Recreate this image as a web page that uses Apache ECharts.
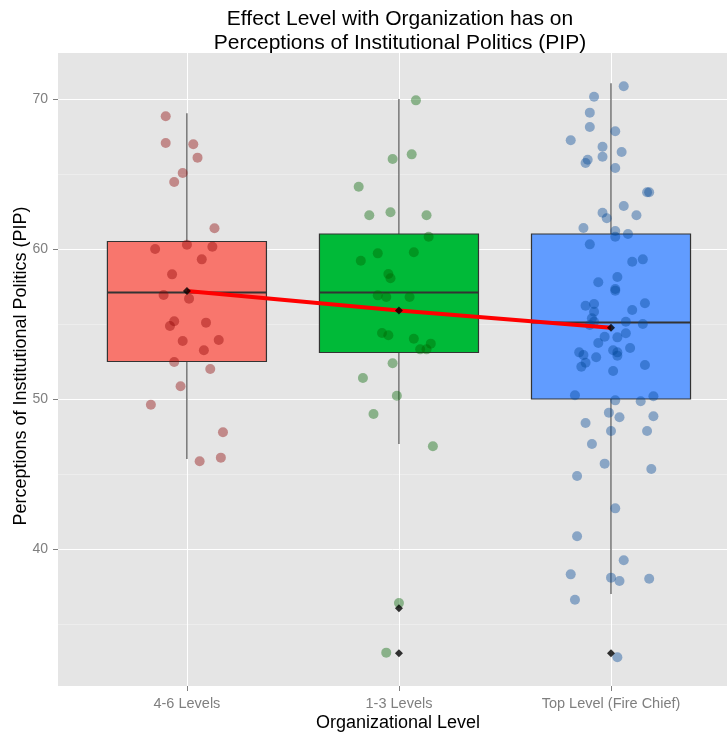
<!DOCTYPE html>
<html>
<head>
<meta charset="utf-8">
<script src="https://cdn.jsdelivr.net/npm/echarts@6/dist/echarts.min.js"></script>
<style>html,body{margin:0;padding:0;background:#fff}#c{width:727px;height:737px}</style>
</head>
<body>
<div id="c"></div>
<script>
// ---- data ----
var categories = ['4-6 Levels', '1-3 Levels', 'Top Level (Fire Chief)'];
// [lower whisker, Q1, median, Q3, upper whisker]
var boxStats = [
  [46.0, 52.5, 57.1, 60.5, 69.05],
  [47.0, 53.1, 57.1, 61.0, 70.0],
  [37.0, 50.0, 55.1, 61.0, 71.05]
];
var means = [57.2, 55.9, 54.75];
var outliers = [[], [36.05, 33.05], [33.05]];
var yTicks = [40, 50, 60, 70];
var yMinorTicks = [35, 45, 55, 65];

var redJitter = [-0.10,-0.10,0.03,0.05,-0.02,-0.06,0.13,-0.15,0.00,0.12,0.07,-0.07,-0.11,0.01,-0.06,-0.08,0.09,-0.02,0.15,0.08,-0.06,0.11,-0.03,-0.17,0.17,0.16,0.06];
var redValues = [68.85,67.07,66.98,66.09,65.07,64.47,61.38,60.0,60.29,60.15,59.31,58.31,56.93,56.69,55.18,54.87,55.09,53.87,53.93,53.25,52.47,52.0,50.85,49.62,47.78,46.09,45.85];

var greenJitter = [0.08,0.06,-0.03,-0.19,-0.14,-0.04,0.13,0.14,-0.10,0.07,-0.18,-0.05,-0.04,-0.10,-0.06,0.05,-0.08,-0.05,0.07,0.15,0.10,0.13,-0.03,-0.17,-0.01,-0.12,0.16,0.00,-0.06];
var greenValues = [69.91,66.31,66.0,64.15,62.25,62.45,62.25,60.82,59.71,59.78,59.22,58.33,58.05,56.91,56.8,56.8,54.4,54.25,54.02,53.69,53.31,53.31,52.38,51.4,50.22,49.0,46.85,36.4,33.09];

var blueJitter = [0.06,-0.08,-0.10,-0.10,0.02,-0.19,-0.04,0.05,-0.04,-0.11,-0.12,0.02,0.17,0.18,0.06,-0.04,-0.02,0.12,-0.13,0.02,0.08,0.02,-0.10,0.10,0.15,-0.06,0.03,0.02,0.02,-0.12,-0.08,-0.08,0.10,0.16,-0.09,-0.08,-0.10,0.07,0.15,-0.03,0.03,0.07,-0.06,0.09,-0.15,-0.13,-0.07,0.01,0.03,0.03,0.16,-0.12,-0.14,0.01,-0.17,0.02,0.14,0.20,-0.01,0.04,0.20,-0.12,0.00,0.17,-0.09,-0.03,0.19,-0.16,0.02,-0.16,0.06,-0.19,0.00,0.04,0.18,-0.17,0.03];
var blueValues = [70.85,70.15,69.09,68.13,67.85,67.25,66.82,66.47,66.15,65.95,65.73,65.4,63.78,63.78,62.87,62.42,62.05,62.25,61.4,61.2,61.0,60.82,60.31,59.15,59.31,57.78,58.13,57.33,57.22,56.22,56.33,55.82,55.93,56.38,55.38,55.15,54.93,55.15,55.0,54.15,54.11,54.38,53.73,53.4,53.11,52.93,52.78,53.25,53.11,52.89,52.27,52.42,52.15,51.87,50.25,49.91,49.85,50.18,49.09,48.78,48.85,48.4,47.87,47.87,47.0,45.69,45.33,44.87,42.71,40.85,39.25,38.31,38.09,37.87,38.02,36.62,32.78];

// ---- styling ----
var boxFills = ['#F8766D', '#00BA38', '#619CFF'];
var pointColors = ['rgba(140,0,0,0.5)', 'rgba(0,100,0,0.5)', 'rgba(0,70,150,0.5)'];

function jitterData(ci, offs, vals) {
  return vals.map(function (v, i) { return [ci + 1 + offs[i], v]; });
}
var jitterSets = [
  jitterData(0, redJitter, redValues),
  jitterData(1, greenJitter, greenValues),
  jitterData(2, blueJitter, blueValues)
];
var boxData = boxStats.map(function (s, i) { return [i + 1].concat(s); });
var meanData = means.map(function (m, i) { return [i + 1, m]; });
var outlierData = [];
outliers.forEach(function (arr, i) { arr.forEach(function (v) { outlierData.push([i + 1, v]); }); });
var catPos = categories.map(function (c, i) { return i + 1; });

var chart = echarts.init(document.getElementById('c'), null, {renderer: 'canvas'});
var FONT = 'Liberation Sans, Arial, sans-serif';
var series = [];
series.push({
  type: 'custom',
  data: boxData,
  z: 2,
  encode: {x: 0, y: [1, 2, 3, 4, 5]},
  renderItem: function (params, api) {
    var c = api.value(0);
    var lo = api.value(1), q1 = api.value(2), med = api.value(3), q3 = api.value(4), hi = api.value(5);
    var half = 0.375;
    var pLo = api.coord([c, lo]), pQ1 = api.coord([c, q1]), pMed = api.coord([c, med]),
        pQ3 = api.coord([c, q3]), pHi = api.coord([c, hi]);
    var xl = api.coord([c - half, med])[0], xr = api.coord([c + half, med])[0];
    var st = {stroke: '#333333', lineWidth: 1};
    return {
      type: 'group',
      children: [
        {type: 'line', shape: {x1: pHi[0], y1: pHi[1], x2: pQ3[0], y2: pQ3[1]}, style: st},
        {type: 'line', shape: {x1: pLo[0], y1: pLo[1], x2: pQ1[0], y2: pQ1[1]}, style: st},
        {type: 'rect', shape: {x: xl, y: pQ3[1], width: xr - xl, height: pQ1[1] - pQ3[1]},
          style: {fill: boxFills[params.dataIndex], stroke: '#333333', lineWidth: 1.2}},
        {type: 'line', shape: {x1: xl, y1: pMed[1], x2: xr, y2: pMed[1]}, style: {stroke: '#333333', lineWidth: 2}}
      ]
    };
  }
});
jitterSets.forEach(function (d, i) {
  series.push({
    type: 'scatter', data: d, symbol: 'circle', symbolSize: 10, z: 3,
    itemStyle: {color: pointColors[i]}, silent: true
  });
});
series.push({
  type: 'line', data: meanData, symbol: 'none', z: 4,
  lineStyle: {color: '#FF0000', width: 4}
});
series.push({
  type: 'scatter', data: meanData.concat(outlierData), symbol: 'diamond', symbolSize: 8, z: 5,
  itemStyle: {color: '#000000'}
});

var option = {
  backgroundColor: '#ffffff',
  animation: false,
  grid: {left: 58, right: 0, top: 53, bottom: 51, containLabel: false, show: true, backgroundColor: '#E5E5E5', borderWidth: 0},
  xAxis: {
    type: 'value', min: 0.392, max: 3.547,
    axisLine: {show: false},
    axisTick: {show: true, length: 5, lineStyle: {color: '#7F7F7F'}, customValues: catPos},
    axisLabel: {show: true, customValues: catPos, color: '#7F7F7F', fontSize: 14.5, fontFamily: FONT, margin: 10,
      formatter: function (v) { return categories[Math.round(v) - 1] || ''; }},
    splitLine: {show: true, lineStyle: {color: '#FFFFFF', width: 1}}
  },
  yAxis: [{
    type: 'value', min: 30.867, max: 73.067,
    axisLine: {show: false},
    axisTick: {show: true, length: 5, lineStyle: {color: '#7F7F7F'}, customValues: yTicks},
    axisLabel: {show: true, customValues: yTicks, color: '#7F7F7F', fontSize: 14, fontFamily: FONT, margin: 10},
    splitLine: {show: true, lineStyle: {color: '#FFFFFF', width: 1}}
  }, {
    type: 'value', min: 30.867, max: 73.067, position: 'left',
    axisLine: {show: false},
    axisTick: {show: false, customValues: yMinorTicks},
    axisLabel: {show: false, customValues: yMinorTicks},
    splitLine: {show: true, lineStyle: {color: '#F2F2F2', width: 0.6}}
  }],
  graphic: [
    {type: 'text', x: 400, y: 7, style: {text: 'Effect Level with Organization has on\nPerceptions of Institutional Politics (PIP)',
      align: 'center', verticalAlign: 'top', fill: '#000', font: '21px ' + FONT, lineHeight: 24}},
    {type: 'text', x: 398, y: 723, style: {text: 'Organizational Level', align: 'center', verticalAlign: 'middle', fill: '#000', font: '18px ' + FONT}},
    {type: 'text', x: 21, y: 366, rotation: Math.PI / 2, style: {text: 'Perceptions of Institutional Politics (PIP)', align: 'center', verticalAlign: 'middle', fill: '#000', font: '18px ' + FONT}}
  ],
  series: series
};
chart.setOption(option);
</script>
</body>
</html>
